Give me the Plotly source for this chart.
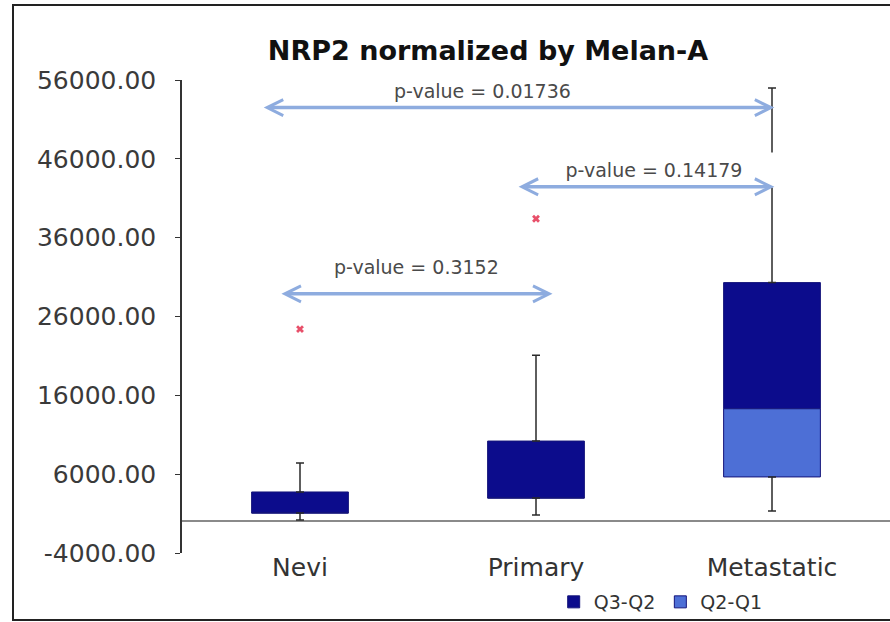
import plotly.graph_objects as go

# ---- data ----
categories = ["Nevi", "Primary", "Metastatic"]
q1 = [1080, 2980, 5650]
q2 = [1080, 2980, 14300]
q3 = [3740, 10200, 30300]
mins = [190, 820, 1330]
maxs = [7420, 21100, 55000]
outlier_cat = [0, 1]
outlier_val = [24400, 38400]

# p-value comparison arrows
pv_labels = ["p-value = 0.01736", "p-value = 0.14179", "p-value = 0.3152"]
pv_x0 = [-0.16, 0.92, -0.085]
pv_x1 = [2.01, 2.01, 1.07]
pv_y = [52500, 42450, 28870]
pv_text_x = [0.773, 1.502, 0.494]
pv_text_y = [54630, 44600, 32300]

y_ticks = [-4000, 6000, 16000, 26000, 36000, 46000, 56000]

x = list(range(len(categories)))
dark = "#0c0c8c"
light = "#4d6fd6"
edge = "#14147a"

fig = go.Figure()
fig.add_trace(go.Bar(
    x=x, y=[b - a for a, b in zip(q2, q3)], base=q2, name="Q3-Q2",
    marker=dict(color=dark, line=dict(color=edge, width=1)), width=0.41,
))
fig.add_trace(go.Bar(
    x=x, y=[b - a for a, b in zip(q1, q2)], base=q1, name="Q2-Q1",
    marker=dict(color=light, line=dict(color=edge, width=1)), width=0.41,
))
# upper whiskers
fig.add_trace(go.Scatter(
    x=x, y=q3, mode="markers", marker=dict(opacity=0), showlegend=False, hoverinfo="skip",
    error_y=dict(type="data", symmetric=False, array=[m - q for m, q in zip(maxs, q3)],
                 arrayminus=[0] * 3, color="#2a2a2a", thickness=1.5, width=4),
))
# lower whiskers
fig.add_trace(go.Scatter(
    x=x, y=q1, mode="markers", marker=dict(opacity=0), showlegend=False, hoverinfo="skip",
    error_y=dict(type="data", symmetric=False, array=[0] * 3,
                 arrayminus=[q - m for m, q in zip(mins, q1)], color="#2a2a2a", thickness=1.5, width=4),
))
# outliers
fig.add_trace(go.Scatter(
    x=outlier_cat, y=outlier_val, mode="markers", showlegend=False,
    marker=dict(symbol="x", size=7, color="#e8506a", line=dict(width=0)),
))

annotations = []
for lab, tx, ty in zip(pv_labels, pv_text_x, pv_text_y):
    a = dict(x=tx, y=ty, xref="x", yref="y", text=lab, showarrow=False,
             font=dict(family="DejaVu Sans", size=19, color="#4a4a4a"))
    if lab == pv_labels[1]:
        a.update(bgcolor="white", width=240, borderpad=6)
    annotations.append(a)
for x0, x1, yy in zip(pv_x0, pv_x1, pv_y):
    annotations.append(dict(
        x=x1, y=yy, ax=x0, ay=yy, xref="x", yref="y", axref="x", ayref="y",
        showarrow=True, arrowhead=5, startarrowhead=5, arrowside="end+start",
        arrowsize=0.9, startarrowsize=0.9, arrowwidth=3.5, arrowcolor="#8eacdf",
        standoff=0, startstandoff=0, text="",
    ))

fig.update_layout(
    width=890, height=622,
    margin=dict(l=182, r=0, t=80, b=69),
    paper_bgcolor="white", plot_bgcolor="white",
    barmode="overlay",
    title=dict(text="<b>NRP2 normalized by Melan-A</b>", x=488 / 890, xanchor="center",
               y=1 - 51 / 622, yanchor="middle", yref="container",
               font=dict(family="DejaVu Sans", size=27, color="#111111")),
    xaxis=dict(range=[-0.5, 2.5], tickvals=x, ticktext=categories, showline=False,
               showgrid=False, zeroline=False, ticks="", ticklabelstandoff=-3,
               tickfont=dict(family="DejaVu Sans", size=25, color="#333333")),
    yaxis=dict(range=[-4000, 56000], tickvals=y_ticks,
               ticktext=[f"{v:.2f}" for v in y_ticks], showline=True, linecolor="#333333",
               linewidth=1.5, ticks="outside", ticklen=5, tickcolor="#333333",
               ticklabelstandoff=14, showgrid=False, zeroline=True,
               zerolinecolor="#8a8a8a", zerolinewidth=1.5,
               tickfont=dict(family="DejaVu Sans", size=25, color="#3a3a3a")),
    legend=dict(orientation="h", x=0.525, y=-0.1036, xanchor="left", yanchor="middle",
                font=dict(family="DejaVu Sans", size=19, color="#333333"),
                bgcolor="rgba(0,0,0,0)", traceorder="normal"),
    annotations=annotations,
    shapes=[dict(type="rect", xref="paper", yref="paper",
                 x0=(13 - 182) / 708, x1=1.01, y0=(553 - 620) / 473, y1=(553 - 5) / 473,
                 line=dict(color="#222222", width=2), layer="below")],
    showlegend=True,
)

fig.write_html("out.html")
